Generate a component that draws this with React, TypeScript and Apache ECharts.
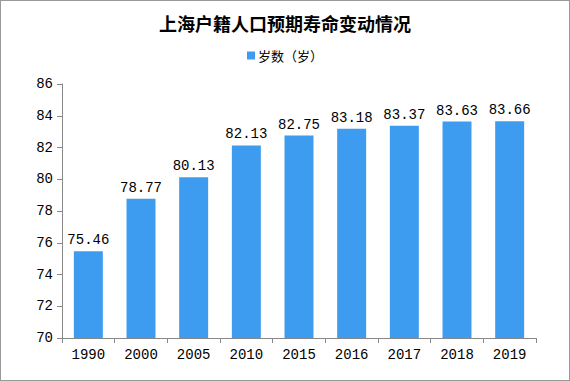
import React, { useEffect, useRef } from "react";
import * as echarts from "echarts";

const categories = ["1990", "2000", "2005", "2010", "2015", "2016", "2017", "2018", "2019"];
const lifeExpectancy = [75.46, 78.77, 80.13, 82.13, 82.75, 83.18, 83.37, 83.63, 83.66];
const seriesName = "岁数（岁）";
const titleText = "上海户籍人口预期寿命变动情况";

export default function App() {
  const ref = useRef<HTMLDivElement>(null);
  useEffect(() => {
    document.body.style.margin = "0";
    const chart = echarts.init(ref.current!, null, { renderer: "svg" });
    const numFont = "'Liberation Mono', 'DejaVu Sans Mono', monospace";
    chart.setOption({
      animation: false,
      backgroundColor: "#ffffff",
      title: {
        text: titleText,
        left: "center",
        top: 8,
        textStyle: {
          fontFamily: "'Noto Sans CJK SC'",
          fontSize: 18,
          fontWeight: "bold",
          color: "#000",
        },
      },
      legend: {
        top: 43,
        left: "center",
        itemWidth: 8,
        itemHeight: 8,
        itemGap: 4,
        icon: "rect",
        textStyle: { fontFamily: "'Noto Sans CJK SC'", fontSize: 13, color: "#000", padding: [0, 0, 0, -2] },
        data: [seriesName],
      },
      grid: { left: 61, right: 33, top: 83, bottom: 42, containLabel: false },
      xAxis: {
        type: "category",
        data: categories,
        axisLine: { lineStyle: { color: "#888" } },
        axisTick: { show: true, length: 5, lineStyle: { color: "#888" } },
        axisLabel: { color: "#000", fontSize: 14, fontFamily: numFont, margin: 10 },
      },
      yAxis: {
        type: "value",
        min: 70,
        max: 86,
        interval: 2,
        axisLine: { show: true, lineStyle: { color: "#888" } },
        axisTick: { show: true, length: 5, lineStyle: { color: "#888" } },
        splitLine: { show: false },
        axisLabel: { color: "#000", fontSize: 14, fontFamily: numFont, margin: 9 },
      },
      series: [
        {
          name: seriesName,
          type: "bar",
          data: lifeExpectancy,
          barWidth: "55%",
          itemStyle: { color: "#3d9cf0" },
          label: {
            show: true,
            position: "top",
            distance: 4,
            color: "#000",
            fontSize: 14,
            fontFamily: numFont,
            formatter: (p: any) => p.value.toFixed(2),
          },
        },
      ],
    });
    return () => chart.dispose();
  }, []);
  return (
    <div
      style={{
        position: "absolute",
        left: 0,
        top: 0,
        width: 570,
        height: 381,
        boxSizing: "border-box",
        border: "1px solid #999",
      }}
    >
      <div ref={ref} style={{ width: 568, height: 379 }} />
    </div>
  );
}
